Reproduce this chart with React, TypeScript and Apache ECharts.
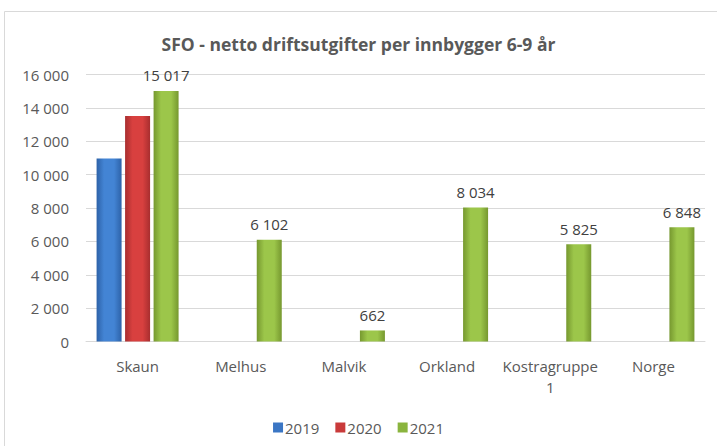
import React, { useEffect, useRef } from "react";
import * as echarts from "echarts";

const categories = ["Skaun", "Melhus", "Malvik", "Orkland", "Kostragruppe\n1", "Norge"];
const seriesNames = ["2019", "2020", "2021"];
const values2019 = [10970, null, null, null, null, null];
const values2020 = [13520, null, null, null, null, null];
const values2021 = [15017, 6102, 662, 8034, 5825, 6848];
const yTicks = { min: 0, max: 16000, interval: 2000 };

const fmt = (v: number) => String(Math.round(v)).replace(/\B(?=(\d{3})+(?!\d))/g, " ");

const FONT = "'Open Sans', sans-serif";

function grad(edge: string, mid: string) {
  return new echarts.graphic.LinearGradient(0, 0, 1, 0, [
    { offset: 0, color: edge },
    { offset: 0.3, color: mid },
    { offset: 0.7, color: mid },
    { offset: 1, color: edge },
  ]);
}

export default function App() {
  const ref = useRef<HTMLDivElement>(null);
  useEffect(() => {
    if (!ref.current) return;
    const chart = echarts.init(ref.current, null, { renderer: "svg" });
    const colors = [
      grad("#2d62a8", "#4384d4"),
      grad("#a82e2f", "#d8403f"),
      grad("#76982f", "#9cc64a"),
    ];
    const legendColors = ["#3b76c4", "#c93a3a", "#8ab43e"];
    const data = [values2019, values2020, values2021];
    chart.setOption({
      animation: false,
      title: {
        text: "SFO - netto driftsutgifter per innbygger 6-9 år",
        left: "center",
        top: 30,
        textStyle: { fontFamily: FONT, fontSize: 17.5, fontWeight: "bold", color: "#595959" },
      },
      graphic: [
        {
          type: "rect",
          shape: { x: 4.5, y: 11.5, width: 740, height: 460 },
          style: { fill: "none", stroke: "#d9d9d9", lineWidth: 1 },
          silent: true,
        },
      ],
      legend: {
        data: seriesNames.map((n, i) => ({ name: n, itemStyle: { color: legendColors[i] } })),
        left: "center",
        top: 415,
        icon: "rect",
        itemWidth: 10,
        itemHeight: 10,
        itemGap: 16,
        textStyle: { fontFamily: FONT, fontSize: 15, color: "#595959", padding: [0, 0, 0, -3] },
      },
      grid: { left: 86, right: 12, top: 74.5, bottom: 104.5, containLabel: false },
      xAxis: {
        type: "category",
        data: categories,
        axisLine: { lineStyle: { color: "#d9d9d9" } },
        axisTick: { show: false },
        axisLabel: { fontFamily: FONT, fontSize: 15, color: "#595959", margin: 14, lineHeight: 21, interval: 0 },
      },
      yAxis: {
        type: "value",
        min: yTicks.min,
        max: yTicks.max,
        interval: yTicks.interval,
        axisLine: { show: false },
        axisTick: { show: false },
        splitLine: { lineStyle: { color: "#d9d9d9" } },
        axisLabel: { fontFamily: FONT, fontSize: 15, color: "#595959", margin: 17, formatter: (v: number) => fmt(v) },
      },
      series: seriesNames.map((name, i) => ({
        name,
        type: "bar",
        data: data[i],
        barWidth: 25,
        barGap: "14%",
        itemStyle: { color: colors[i] },
        label:
          i === 2
            ? {
                show: true,
                position: "top",
                distance: 8,
                fontFamily: FONT,
                fontSize: 15,
                color: "#404040",
                formatter: (p: any) => fmt(p.value),
              }
            : { show: false },
      })),
    });
    return () => chart.dispose();
  }, []);
  return <div ref={ref} style={{ position: "fixed", left: 0, top: 0, width: 717, height: 446, background: "#fff" }} />;
}
